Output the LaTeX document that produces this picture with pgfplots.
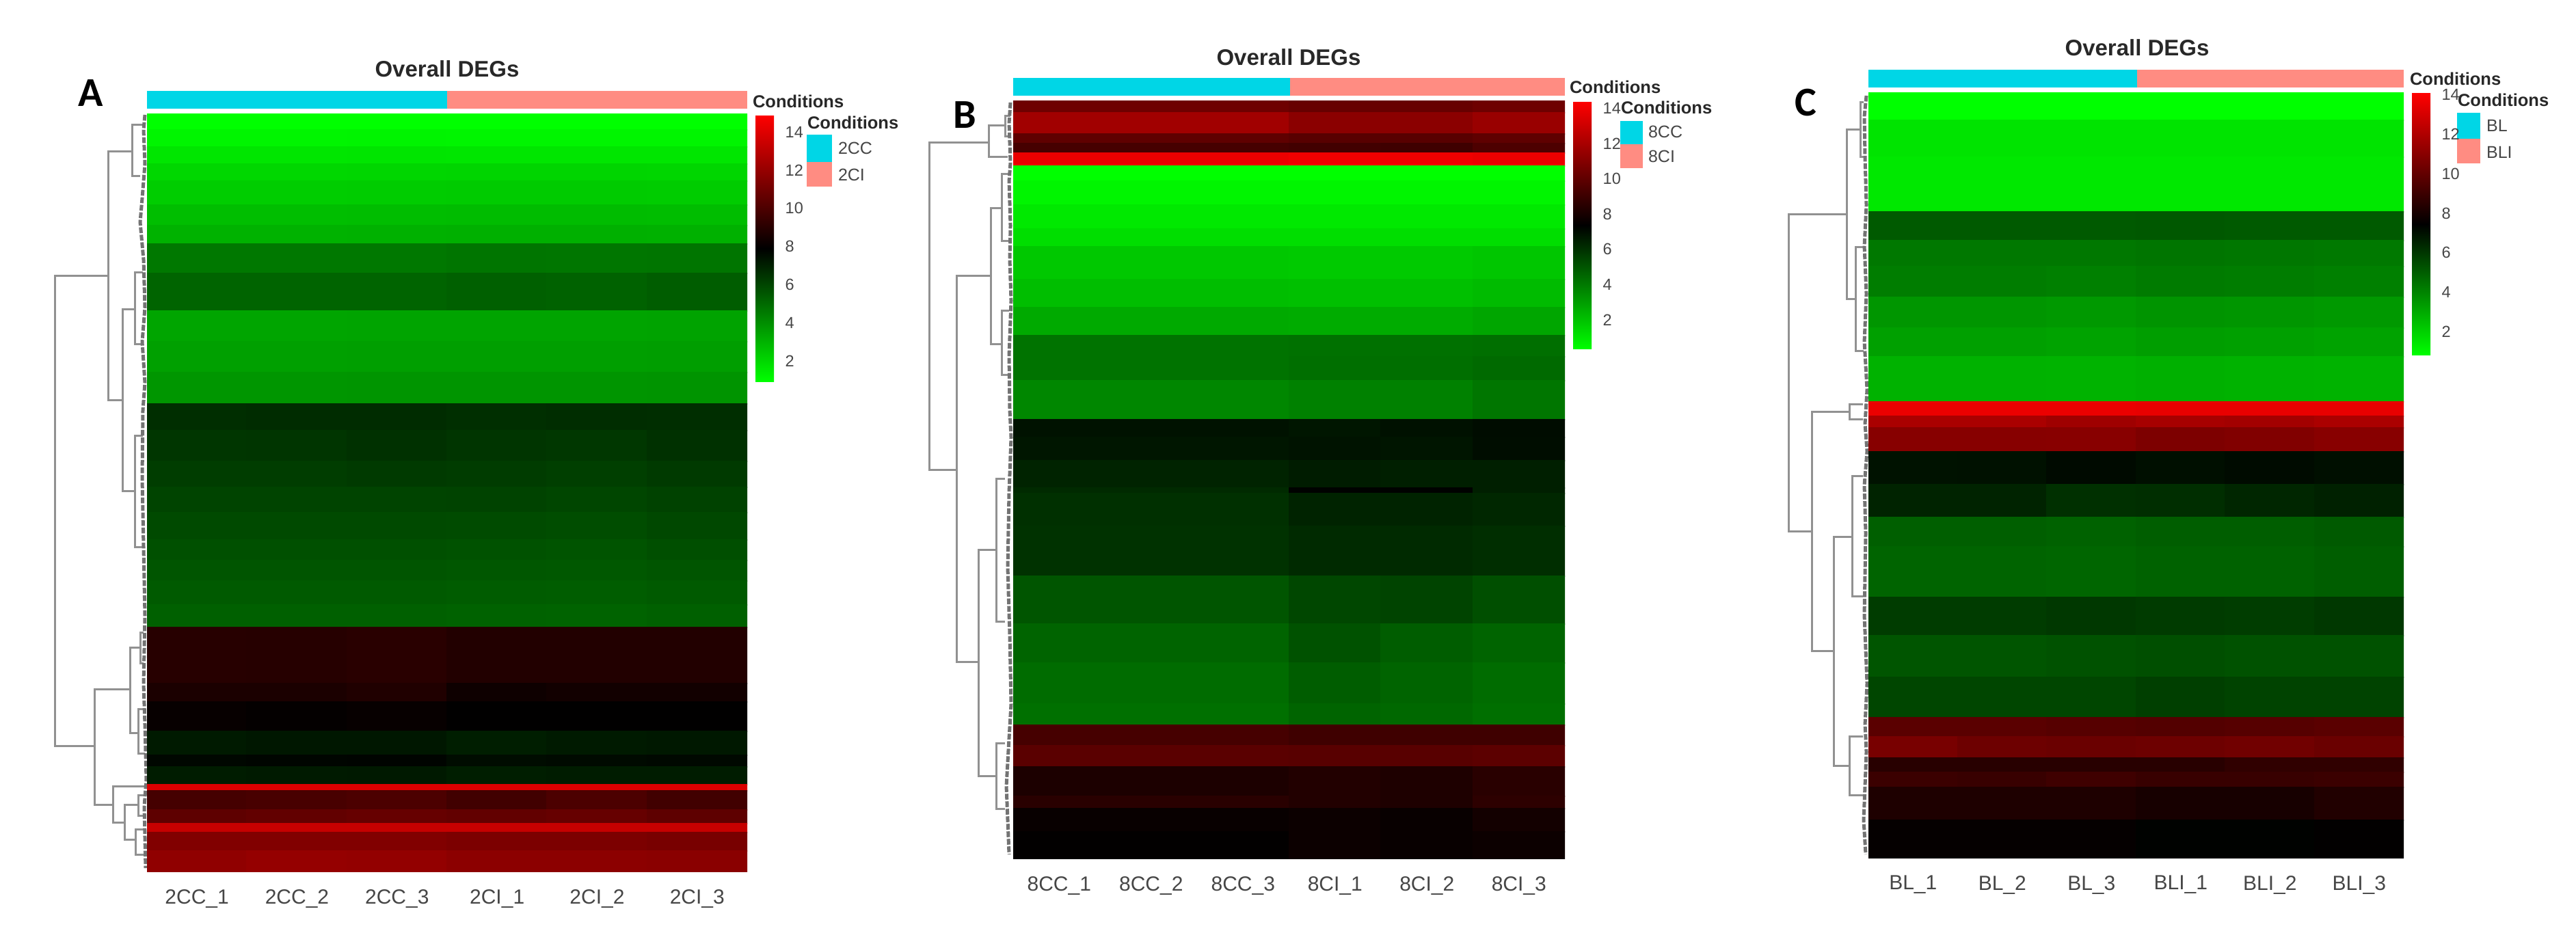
\documentclass[border=0pt]{standalone}
\usepackage{fontspec}
\setmainfont{Liberation Sans}
\newfontfamily\letterfont{Carlito}
\usepackage{pgfplots}
\pgfplotsset{compat=1.18}
\definecolor{condA}{RGB}{0,214,230}
\definecolor{condB}{RGB}{255,140,130}
\definecolor{dend}{RGB}{145,145,145}
\definecolor{ticktxt}{RGB}{70,70,70}
\definecolor{hdtxt}{RGB}{40,40,40}

% 1 px of the reference = 0.2pt
\pgfplotsset{
  heat/.style={
    scale only axis, anchor=south west, y dir=reverse, xmin=0, xmax=6,
    axis line style={draw=none}, major tick length=0pt, ytick=\empty,
    xtick={0.5,1.5,2.5,3.5,4.5,5.5},
    xticklabel style={font=\fontsize{6}{7}\selectfont, text=ticktxt, yshift=-1.7pt},
    colormap={gbr}{rgb255=(0,255,0); rgb255=(0,0,0); rgb255=(255,0,0)},
    colorbar,
  },
  cbar/.style={
    scale only axis, anchor=north west, width=5.4pt,
    axis line style={draw=none}, major tick length=0pt, ytick={2,4,...,14},
    yticklabel style={font=\fontsize{4.7}{5}\selectfont, text=ticktxt, xshift=-0.2pt},
    /pgf/number format/assume math mode=true,
  },
  hmcells/.style={surf, shader=flat corner, mesh/cols=7, point meta=explicit},
  dendro/.style={draw=dend, line width=0.6pt, unbounded coords=jump, line join=miter},
  sawline/.style={draw=black!55, line width=1pt, dash pattern=on 1.7pt off 0.5pt},
  swatch/.style={draw=none, fill=#1},
}
\newcommand{\hd}[1]{\fontsize{5.1}{6}\selectfont\bfseries\textcolor{hdtxt}{#1}}
\newcommand{\lgd}[1]{\fontsize{5}{6}\selectfont\textcolor{ticktxt}{#1}}
\newcommand{\ttl}[1]{\fontsize{6.6}{8}\selectfont\bfseries\textcolor{hdtxt}{#1}}
\newcommand{\pl}[1]{\fontsize{12}{14}\selectfont\letterfont\bfseries #1}

\begin{document}
\begin{tikzpicture}
\path[use as bounding box] (0,0) rectangle (753.6pt,272.8pt);

% page axis in reference pixels: trees, annotation bars, legends, titles
\begin{axis}[at={(0,0)}, anchor=south west, scale only axis, width=753.6pt, height=272.8pt,
  xmin=0, xmax=3768, ymin=0, ymax=1364, y dir=reverse, hide axis, clip=false]

% panel A
\addplot[swatch=condA] coordinates {(215,133) (654,133) (654,159) (215,159)} --cycle;
\addplot[swatch=condB] coordinates {(654,133) (1093,133) (1093,159) (654,159)} --cycle;
\addplot[swatch=condA] coordinates {(1180,197) (1217,197) (1217,237) (1180,237)} --cycle;
\addplot[swatch=condB] coordinates {(1180,237) (1217,237) (1217,273) (1180,273)} --cycle;
\addplot[dendro] coordinates {
 (158,403) (80,403) (80,1091) (138,1091) (nan,nan)
 (193,222) (158,222) (158,585) (179,585) (nan,nan)
 (209,183) (193,183) (193,258) (205,258) (nan,nan)
 (197,452) (179,452) (179,718) (197,718) (nan,nan)
 (209,398) (197,398) (197,503) (209,503) (nan,nan)
 (209,637) (197,637) (197,800) (209,800) (nan,nan)
 (190,1008) (138,1008) (138,1177) (165,1177) (nan,nan)
 (205,947) (190,947) (190,1072) (202,1072) (nan,nan)
 (210,925) (205,925) (205,970) (210,970) (nan,nan)
 (212,1037) (202,1037) (202,1102) (212,1102) (nan,nan)
 (212,1150) (165,1150) (165,1203) (182,1203) (nan,nan)
 (202,1177) (182,1177) (182,1228) (198,1228) (nan,nan)
 (210,1163) (202,1163) (202,1193) (210,1193) (nan,nan)
 (210,1213) (198,1213) (198,1250) (210,1250)
};
\addplot[sawline] coordinates {(212,168) (210,190) (212,240) (208,290) (205,325) (210,380) (212,450) (208,500)
 (212,560) (209,600) (208,700) (210,800) (212,900) (210,1000) (212,1060) (214,1140) (211,1180) (213,1270)};
\node[anchor=center] at (axis cs:654,101) {\ttl{Overall DEGs}};
\node[anchor=west, inner sep=0pt] at (axis cs:1100,148) {\hd{Conditions}};
\node[anchor=west, inner sep=0pt] at (axis cs:1180,179) {\hd{Conditions}};
\node[anchor=west, inner sep=0pt] at (axis cs:1225,217) {\lgd{2CC}};
\node[anchor=west, inner sep=0pt] at (axis cs:1225,256) {\lgd{2CI}};
\node at (axis cs:133,136) {\pl{A}};

% panel B
\addplot[swatch=condA] coordinates {(1482,114) (1887,114) (1887,140) (1482,140)} --cycle;
\addplot[swatch=condB] coordinates {(1887,114) (2289,114) (2289,140) (1887,140)} --cycle;
\addplot[swatch=condA] coordinates {(2370,177) (2403,177) (2403,211) (2370,211)} --cycle;
\addplot[swatch=condB] coordinates {(2370,211) (2403,211) (2403,246) (2370,246)} --cycle;
\addplot[dendro] coordinates {
 (1446,209) (1359,209) (1359,687) (1399,687) (nan,nan)
 (1470,184) (1446,184) (1446,230) (1474,230) (nan,nan)
 (1449,403) (1399,403) (1399,968) (1431,968) (nan,nan)
 (1465,304) (1449,304) (1449,503) (1465,503) (nan,nan)
 (1476,255) (1465,255) (1465,352) (1476,352) (nan,nan)
 (1476,454) (1465,454) (1465,548) (1476,548) (nan,nan)
 (1457,804) (1431,804) (1431,1135) (1457,1135) (nan,nan)
 (1470,700) (1457,700) (1457,909) (1470,909) (nan,nan)
 (1470,1087) (1457,1087) (1457,1183) (1470,1183) (nan,nan)
 (1478,170) (1470,170) (1470,200) (1478,200)
};
\addplot[sawline] coordinates {(1478,150) (1476,180) (1478,238) (1476,265) (1478,330) (1477,380) (1479,440) (1476,520)
 (1477,600) (1479,640) (1476,720) (1474,830) (1477,930) (1479,1030) (1476,1080) (1472,1150) (1476,1250)};
\node at (axis cs:1885,84) {\ttl{Overall DEGs}};
\node[anchor=west, inner sep=0pt] at (axis cs:2295,127) {\hd{Conditions}};
\node[anchor=west, inner sep=0pt] at (axis cs:2370,157) {\hd{Conditions}};
\node[anchor=west, inner sep=0pt] at (axis cs:2410,193) {\lgd{8CC}};
\node[anchor=west, inner sep=0pt] at (axis cs:2410,229) {\lgd{8CI}};
\node at (axis cs:1411,168) {\pl{B}};

% panel C
\addplot[swatch=condA] coordinates {(2733,102) (3126,102) (3126,128) (2733,128)} --cycle;
\addplot[swatch=condB] coordinates {(3126,102) (3516,102) (3516,128) (3126,128)} --cycle;
\addplot[swatch=condA] coordinates {(3594,165) (3628,165) (3628,203) (3594,203)} --cycle;
\addplot[swatch=condB] coordinates {(3594,203) (3628,203) (3628,239) (3594,239)} --cycle;
\addplot[dendro] coordinates {
 (2701,313) (2616,313) (2616,777) (2650,777) (nan,nan)
 (2721,190) (2701,190) (2701,437) (2714,437) (nan,nan)
 (2726,150) (2721,150) (2721,230) (2726,230) (nan,nan)
 (2726,361) (2714,361) (2714,513) (2726,513) (nan,nan)
 (2705,602) (2650,602) (2650,952) (2682,952) (nan,nan)
 (2725,591) (2705,591) (2705,613) (2725,613) (nan,nan)
 (2709,785) (2682,785) (2682,1120) (2705,1120) (nan,nan)
 (2725,696) (2709,696) (2709,872) (2725,872) (nan,nan)
 (2725,1077) (2705,1077) (2705,1163) (2725,1163)
};
\addplot[sawline] coordinates {(2730,140) (2727,170) (2728,230) (2730,300) (2727,360) (2730,430) (2727,500) (2731,570)
 (2728,620) (2731,660) (2727,710) (2729,780) (2727,900) (2731,1000) (2728,1060) (2730,1100) (2726,1200) (2729,1250)};
\node at (axis cs:3126,70) {\ttl{Overall DEGs}};
\node[anchor=west, inner sep=0pt] at (axis cs:3524,115) {\hd{Conditions}};
\node[anchor=west, inner sep=0pt] at (axis cs:3594,146) {\hd{Conditions}};
\node[anchor=west, inner sep=0pt] at (axis cs:3636,184) {\lgd{BL}};
\node at (axis cs:2641,150) {\pl{C}};
\node[anchor=west, inner sep=0pt] at (axis cs:3636,223) {\lgd{BLI}};
\end{axis}

% heat map A
\begin{axis}[heat, at={(43pt,17.8pt)}, width=175.6pt, height=221.6pt, ymin=167, ymax=1275,
  xticklabels={2CC\_1,2CC\_2,2CC\_3,2CI\_1,2CI\_2,2CI\_3},
  point meta min=0.94, point meta max=14.89,
  colorbar style={cbar, height=78pt, at={(1.0137,0.999)}}]
\addplot[hmcells] coordinates {
(0,167)[0.95](1,167)[0.95](2,167)[0.95](3,167)[0.95](4,167)[0.95](5,167)[0.95](6,167)[0.95]
(0,190)[1.22](1,190)[1.22](2,190)[1.24](3,190)[1.22](4,190)[1.22](5,190)[1.22](6,190)[1.22]
(0,215)[1.63](1,215)[1.63](2,215)[1.65](3,215)[1.63](4,215)[1.63](5,215)[1.63](6,215)[1.63]
(0,240)[2.04](1,240)[2.04](2,240)[2.06](3,240)[2.08](4,240)[2.08](5,240)[2.06](6,240)[2.06]
(0,265)[2.31](1,265)[2.31](2,265)[2.33](3,265)[2.35](4,265)[2.35](5,265)[2.33](6,265)[2.33]
(0,300)[2.72](1,300)[2.72](2,300)[2.74](3,300)[2.76](4,300)[2.76](5,300)[2.74](6,300)[2.74]
(0,330)[3.05](1,330)[3.05](2,330)[3.07](3,330)[3.09](4,330)[3.09](5,330)[3.07](6,330)[3.07]
(0,357)[4.63](1,357)[4.63](2,357)[4.63](3,357)[4.72](4,357)[4.68](5,357)[4.72](6,357)[4.72]
(0,400)[5.18](1,400)[5.18](2,400)[5.18](3,400)[5.30](4,400)[5.24](5,400)[5.36](6,400)[5.36]
(0,455)[3.40](1,455)[3.40](2,455)[3.42](3,455)[3.44](4,455)[3.42](5,455)[3.46](6,455)[3.46]
(0,500)[3.54](1,500)[3.54](2,500)[3.56](3,500)[3.58](4,500)[3.56](5,500)[3.60](6,500)[3.60]
(0,545)[3.81](1,545)[3.81](2,545)[3.83](3,545)[3.85](4,545)[3.83](5,545)[3.87](6,545)[3.87]
(0,591)[6.67](1,591)[6.72](2,591)[6.72](3,591)[6.62](4,591)[6.70](5,591)[6.66](6,591)[6.66]
(0,630)[6.45](1,630)[6.47](2,630)[6.58](3,630)[6.47](4,630)[6.42](5,630)[6.58](6,630)[6.58]
(0,675)[6.25](1,675)[6.25](2,675)[6.33](3,675)[6.28](4,675)[6.20](5,675)[6.33](6,675)[6.33]
(0,713)[6.05](1,713)[6.05](2,713)[6.05](3,713)[6.08](4,713)[6.00](5,713)[6.12](6,713)[6.12]
(0,750)[5.90](1,750)[5.90](2,750)[5.90](3,750)[5.86](4,750)[5.80](5,750)[5.94](6,750)[5.94]
(0,790)[5.72](1,790)[5.72](2,790)[5.72](3,790)[5.68](4,790)[5.62](5,790)[5.76](6,790)[5.76]
(0,820)[5.60](1,820)[5.60](2,820)[5.60](3,820)[5.55](4,820)[5.50](5,820)[5.60](6,820)[5.60]
(0,850)[5.45](1,850)[5.45](2,850)[5.45](3,850)[5.40](4,850)[5.38](5,850)[5.45](6,850)[5.45]
(0,885)[5.28](1,885)[5.28](2,885)[5.28](3,885)[5.24](4,885)[5.22](5,885)[5.28](6,885)[5.28]
(0,918)[9.00](1,918)[8.95](2,918)[9.05](3,918)[8.85](4,918)[8.85](5,918)[8.85](6,918)[8.85]
(0,1000)[8.66](1,1000)[8.66](2,1000)[8.80](3,1000)[8.30](4,1000)[8.40](5,1000)[8.40](6,1000)[8.40]
(0,1027)[8.10](1,1027)[8.04](2,1027)[8.10](3,1027)[7.95](4,1027)[7.95](5,1027)[7.95](6,1027)[7.95]
(0,1070)[7.22](1,1070)[7.30](2,1070)[7.30](3,1070)[7.10](4,1070)[7.20](5,1070)[7.25](6,1070)[7.25]
(0,1105)[7.74](1,1105)[7.78](2,1105)[7.82](3,1105)[7.60](4,1105)[7.65](5,1105)[7.70](6,1105)[7.70]
(0,1122)[7.14](1,1122)[7.20](2,1122)[7.24](3,1122)[7.10](4,1122)[7.16](5,1122)[7.14](6,1122)[7.14]
(0,1148)[13.90](1,1148)[13.90](2,1148)[13.90](3,1148)[13.90](4,1148)[13.90](5,1148)[13.90](6,1148)[13.90]
(0,1157)[9.80](1,1157)[9.90](2,1157)[10.00](3,1157)[9.70](4,1157)[10.00](5,1157)[9.70](6,1157)[9.70]
(0,1185)[10.50](1,1185)[10.60](2,1185)[10.70](3,1185)[10.60](4,1185)[10.70](5,1185)[10.50](6,1185)[10.50]
(0,1205)[13.35](1,1205)[13.35](2,1205)[13.35](3,1205)[13.35](4,1205)[13.35](5,1205)[13.35](6,1205)[13.35]
(0,1218)[11.45](1,1218)[11.45](2,1218)[11.45](3,1218)[11.30](4,1218)[11.30](5,1218)[11.20](6,1218)[11.20]
(0,1245)[11.85](1,1245)[12.00](2,1245)[11.95](3,1245)[11.75](4,1245)[11.75](5,1245)[11.70](6,1245)[11.70]
(0,1275)[11.85](1,1275)[12.00](2,1275)[11.95](3,1275)[11.75](4,1275)[11.75](5,1275)[11.70](6,1275)[11.70]
};
\end{axis}

% heat map B
\begin{axis}[heat, at={(296.4pt,21.6pt)}, width=161.4pt, height=221.6pt, ymin=148, ymax=1256,
  xticklabels={8CC\_1,8CC\_2,8CC\_3,8CI\_1,8CI\_2,8CI\_3},
  point meta min=0.33, point meta max=14.4,
  colorbar style={cbar, height=72.6pt, at={(1.0149,1)}}]
\addplot[hmcells] coordinates {
(0,148)[10.40](1,148)[10.40](2,148)[10.40](3,148)[10.20](4,148)[10.20](5,148)[10.40](6,148)[10.40]
(0,165)[11.80](1,165)[11.80](2,165)[11.80](3,165)[11.20](4,165)[11.20](5,165)[11.60](6,165)[11.60]
(0,196)[10.00](1,196)[10.00](2,196)[10.00](3,196)[9.80](4,196)[9.80](5,196)[10.00](6,196)[10.00]
(0,210)[9.30](1,210)[9.30](2,210)[9.30](3,210)[9.20](4,210)[9.10](5,210)[9.50](6,210)[9.50]
(0,224)[13.85](1,224)[13.85](2,224)[13.85](3,224)[14.00](4,224)[14.00](5,224)[13.85](6,224)[13.85]
(0,243)[0.33](1,243)[0.33](2,243)[0.33](3,243)[0.33](4,243)[0.33](5,243)[0.33](6,243)[0.33]
(0,265)[0.60](1,265)[0.60](2,265)[0.60](3,265)[0.60](4,265)[0.60](5,265)[0.60](6,265)[0.60]
(0,300)[0.95](1,300)[0.95](2,300)[0.95](3,300)[0.95](4,300)[0.95](5,300)[0.95](6,300)[0.95]
(0,335)[1.25](1,335)[1.25](2,335)[1.25](3,335)[1.25](4,335)[1.25](5,335)[1.25](6,335)[1.25]
(0,361)[1.85](1,361)[1.85](2,361)[1.85](3,361)[1.80](4,361)[1.80](5,361)[1.90](6,361)[1.90]
(0,409)[2.12](1,409)[2.12](2,409)[2.12](3,409)[2.08](4,409)[2.08](5,409)[2.20](6,409)[2.20]
(0,450)[2.67](1,450)[2.67](2,450)[2.67](3,450)[2.63](4,450)[2.63](5,450)[2.80](6,450)[2.80]
(0,491)[4.20](1,491)[4.20](2,491)[4.20](3,491)[4.25](4,491)[4.25](5,491)[4.30](6,491)[4.30]
(0,522)[4.20](1,522)[4.20](2,522)[4.20](3,522)[4.30](4,522)[4.30](5,522)[4.45](6,522)[4.45]
(0,557)[3.64](1,557)[3.64](2,557)[3.64](3,557)[3.80](4,557)[3.80](5,557)[4.10](6,557)[4.10]
(0,614)[6.87](1,614)[6.87](2,614)[6.87](3,614)[6.75](4,614)[6.90](5,614)[7.05](6,614)[7.05]
(0,640)[6.76](1,640)[6.76](2,640)[6.76](3,640)[6.85](4,640)[6.80](5,640)[7.00](6,640)[7.00]
(0,674)[6.40](1,674)[6.40](2,674)[6.40](3,674)[6.60](4,674)[6.50](5,674)[6.50](6,674)[6.50]
(0,714)[6.20](1,714)[6.20](2,714)[6.20](3,714)[7.30](4,714)[7.30](5,714)[6.50](6,714)[6.50]
(0,722)[6.04](1,722)[6.04](2,722)[6.04](3,722)[6.40](4,722)[6.40](5,722)[6.30](6,722)[6.30]
(0,770)[5.98](1,770)[5.98](2,770)[5.98](3,770)[6.20](4,770)[6.20](5,770)[6.10](6,770)[6.10]
(0,843)[5.02](1,843)[5.02](2,843)[5.02](3,843)[5.40](4,843)[5.50](5,843)[5.20](6,843)[5.20]
(0,913)[4.60](1,913)[4.60](2,913)[4.60](3,913)[5.10](4,913)[4.80](5,913)[4.60](6,913)[4.60]
(0,970)[4.38](1,970)[4.38](2,970)[4.38](3,970)[4.80](4,970)[4.60](5,970)[4.40](6,970)[4.40]
(0,1030)[4.27](1,1030)[4.27](2,1030)[4.27](3,1030)[4.60](4,1030)[4.50](5,1030)[4.30](6,1030)[4.30]
(0,1061)[9.30](1,1061)[9.30](2,1061)[9.30](3,1061)[9.10](4,1061)[9.10](5,1061)[9.10](6,1061)[9.10]
(0,1091)[9.85](1,1091)[9.85](2,1091)[9.85](3,1091)[9.80](4,1091)[9.80](5,1091)[9.90](6,1091)[9.90]
(0,1122)[8.14](1,1122)[8.14](2,1122)[8.14](3,1122)[8.30](4,1122)[8.20](5,1122)[8.50](6,1122)[8.50]
(0,1165)[8.50](1,1165)[8.50](2,1165)[8.50](3,1165)[8.30](4,1165)[8.20](5,1165)[8.60](6,1165)[8.60]
(0,1183)[7.60](1,1183)[7.60](2,1183)[7.60](3,1183)[7.70](4,1183)[7.60](5,1183)[7.90](6,1183)[7.90]
(0,1217)[7.42](1,1217)[7.42](2,1217)[7.42](3,1217)[7.70](4,1217)[7.60](5,1217)[7.70](6,1217)[7.70]
(0,1256)[7.42](1,1256)[7.42](2,1256)[7.42](3,1256)[7.70](4,1256)[7.60](5,1256)[7.70](6,1256)[7.70]
};
\end{axis}

% heat map C
\begin{axis}[heat, at={(546.6pt,21.8pt)}, width=156.6pt, height=223.8pt, ymin=136, ymax=1255,
  xticklabels={BL\_1,BL\_2,BL\_3,BLI\_1,BLI\_2,BLI\_3},
  point meta min=0.8, point meta max=14.09,
  colorbar style={cbar, height=76.8pt, at={(1.0153,1)}}]
\addplot[hmcells] coordinates {
(0,136)[0.80](1,136)[0.80](2,136)[0.80](3,136)[0.80](4,136)[0.80](5,136)[0.80](6,136)[0.80]
(0,176)[1.50](1,176)[1.50](2,176)[1.50](3,176)[1.50](4,176)[1.50](5,176)[1.50](6,176)[1.50]
(0,230)[1.40](1,230)[1.40](2,230)[1.40](3,230)[1.40](4,230)[1.40](5,230)[1.40](6,230)[1.40]
(0,310)[5.10](1,310)[5.10](2,310)[5.10](3,310)[5.15](4,310)[5.10](5,310)[5.10](6,310)[5.10]
(0,352)[4.32](1,352)[4.32](2,352)[4.32](3,352)[4.40](4,352)[4.35](5,352)[4.30](6,352)[4.30]
(0,390)[4.19](1,390)[4.19](2,390)[4.10](3,390)[4.25](4,390)[4.19](5,390)[4.10](6,390)[4.10]
(0,435)[3.54](1,435)[3.54](2,435)[3.45](3,435)[3.60](4,435)[3.54](5,435)[3.45](6,435)[3.45]
(0,480)[3.28](1,480)[3.28](2,480)[3.20](3,480)[3.32](4,480)[3.28](5,480)[3.20](6,480)[3.20]
(0,522)[2.81](1,522)[2.81](2,522)[2.78](3,522)[2.85](4,522)[2.81](5,522)[2.78](6,522)[2.78]
(0,588)[13.57](1,588)[13.57](2,588)[13.57](3,588)[13.50](4,588)[13.50](5,588)[13.50](6,588)[13.50]
(0,609)[11.88](1,609)[11.88](2,609)[11.60](3,609)[11.80](4,609)[11.70](5,609)[11.90](6,609)[11.90]
(0,626)[10.96](1,626)[10.96](2,626)[11.00](3,626)[10.70](4,626)[10.80](5,626)[11.00](6,626)[11.00]
(0,661)[6.98](1,661)[7.00](2,661)[7.20](3,661)[7.05](4,661)[7.15](5,661)[7.05](6,661)[7.05]
(0,709)[6.53](1,709)[6.53](2,709)[6.20](3,709)[6.25](4,709)[6.45](5,709)[6.60](6,709)[6.60]
(0,757)[4.97](1,757)[4.97](2,757)[4.90](3,757)[5.00](4,757)[5.00](5,757)[5.10](6,757)[5.10]
(0,800)[4.84](1,800)[4.84](2,800)[4.80](3,800)[4.90](4,800)[4.90](5,800)[5.00](6,800)[5.00]
(0,874)[5.88](1,874)[5.88](2,874)[6.00](3,874)[5.90](4,874)[5.85](5,874)[6.00](6,874)[6.00]
(0,930)[5.23](1,930)[5.23](2,930)[5.30](3,930)[5.40](4,930)[5.30](5,930)[5.30](6,930)[5.30]
(0,991)[5.62](1,991)[5.62](2,991)[5.62](3,991)[5.80](4,991)[5.70](5,991)[5.70](6,991)[5.70]
(0,1050)[9.79](1,1050)[9.79](2,1050)[9.70](3,1050)[9.60](4,1050)[9.70](5,1050)[9.80](6,1050)[9.80]
(0,1078)[10.57](1,1078)[10.30](2,1078)[10.20](3,1078)[10.30](4,1078)[10.40](5,1078)[10.20](6,1078)[10.20]
(0,1109)[8.49](1,1109)[8.49](2,1109)[8.49](3,1109)[8.50](4,1109)[8.70](5,1109)[8.70](6,1109)[8.70]
(0,1130)[9.00](1,1130)[8.90](2,1130)[9.10](3,1130)[8.90](4,1130)[8.90](5,1130)[9.00](6,1130)[9.00]
(0,1152)[8.23](1,1152)[8.23](2,1152)[8.23](3,1152)[8.05](4,1152)[8.05](5,1152)[8.30](6,1152)[8.30]
(0,1200)[7.58](1,1200)[7.58](2,1200)[7.58](3,1200)[7.40](4,1200)[7.40](5,1200)[7.50](6,1200)[7.50]
(0,1255)[7.58](1,1255)[7.58](2,1255)[7.58](3,1255)[7.40](4,1255)[7.40](5,1255)[7.50](6,1255)[7.50]
};
\end{axis}
\end{tikzpicture}
\end{document}
